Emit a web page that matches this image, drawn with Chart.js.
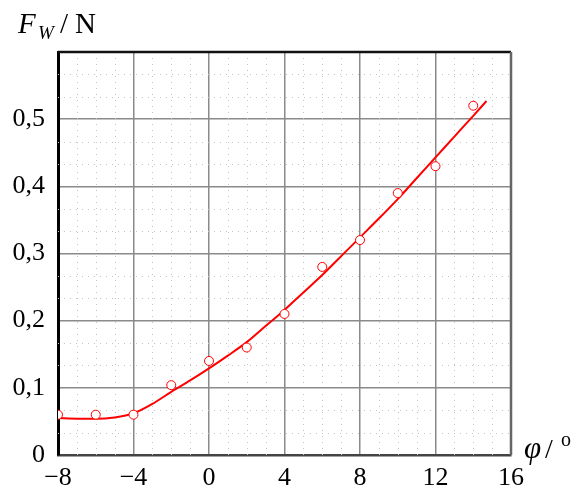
<!DOCTYPE html>
<html>
<head>
<meta charset="utf-8">
<script src="https://cdn.jsdelivr.net/npm/chart.js@4/dist/chart.umd.min.js"></script>
<style>
  html,body{margin:0;padding:0;background:#fff}
  #wrap{width:576px;height:490px;position:relative}
</style>
</head>
<body>
<div id="wrap"><canvas id="c" width="576" height="490"></canvas></div>
<script>
/* measured points (circles) */
var PHI=[-8,-6,-4,-2,0,2,4,6,8,10,12,14];
var FW=[0.06,0.06,0.06,0.104,0.14,0.16,0.21,0.28,0.32,0.39,0.43,0.52];
/* fitted curve */
var FIT_PHI=[-8,-7,-6,-5,-4,-3,-2,-1,0,1,2,3,4,5,6,7,8,9,10,11,12,13,14,14.7];
var FIT_FW=[0.055,0.054,0.054,0.056,0.062,0.076,0.094,0.111,0.129,0.148,0.168,0.192,0.216,0.242,0.268,0.296,0.324,0.352,0.381,0.412,0.443,0.474,0.505,0.527];
/* axis ticks */
var X_TICKS=[-8,-4,0,4,8,12,16];
var Y_TICKS=[0,0.1,0.2,0.3,0.4,0.5];
var Y_LABELS=['0','0,1','0,2','0,3','0,4','0,5'];

var SERIF='"Liberation Serif","DejaVu Serif",serif';

function pts(xs,ys){ return xs.map(function(x,i){return {x:x,y:ys[i]};}); }

// dotted minor grid + frame + axis titles
var decor={
  id:'decor',
  beforeDatasetsDraw:function(chart){
    var ctx=chart.ctx,a=chart.chartArea,sx=chart.scales.x,sy=chart.scales.y;
    ctx.save();
    ctx.strokeStyle='#c4c4c4';ctx.lineWidth=1;ctx.setLineDash([1,5]);
    for(var v=-7;v<16;v++){
      if(v%4===0) continue;
      var px=Math.round(sx.getPixelForValue(v))+0.5;
      ctx.beginPath();ctx.moveTo(px,a.top);ctx.lineTo(px,a.bottom);ctx.stroke();
    }
    for(var k=1;k<18;k++){
      if(k%3===0) continue;
      var py=Math.round(sy.getPixelForValue(k*0.1/3))+0.5;
      ctx.beginPath();ctx.moveTo(a.left,py);ctx.lineTo(a.right,py);ctx.stroke();
    }
    ctx.setLineDash([]);
    // frame: top black, right gray
    ctx.strokeStyle='#111';ctx.lineWidth=2.5;
    ctx.beginPath();ctx.moveTo(a.left,a.top);ctx.lineTo(a.right,a.top);ctx.stroke();
    ctx.strokeStyle='#666';ctx.lineWidth=2.5;
    ctx.beginPath();ctx.moveTo(a.right,a.top);ctx.lineTo(a.right,a.bottom);ctx.stroke();
    ctx.restore();
  },
  afterDraw:function(chart){
    var ctx=chart.ctx;
    ctx.save();
    ctx.fillStyle='#000';ctx.textBaseline='alphabetic';
    ctx.font='italic 29px '+SERIF;
    ctx.fillText('F',18,33);
    ctx.font='italic 19px '+SERIF;
    ctx.fillText('W',38,39);
    ctx.font='29px '+SERIF;
    ctx.fillText('/',60,33);
    ctx.fillText('N',75,33);
    ctx.font='italic 31px '+SERIF;
    ctx.fillText('\u03c6',524,458);
    ctx.font='28px '+SERIF;
    ctx.fillText('/',545,458);
    ctx.font='20px '+SERIF;
    ctx.fillText('o',561,446);
    ctx.restore();
  }
};

new Chart(document.getElementById('c'),{
  type:'scatter',
  data:{datasets:[
    {data:pts(FIT_PHI,FIT_FW),showLine:true,borderColor:'#f00',borderWidth:2,pointRadius:0,cubicInterpolationMode:'monotone',order:2},
    {data:pts(PHI,FW),showLine:false,borderColor:'#f00',backgroundColor:'#fff',borderWidth:1,pointRadius:4.5,order:1}
  ]},
  options:{
    responsive:false,animation:false,
    layout:{padding:{left:0,top:52,right:65,bottom:0}},
    plugins:{legend:{display:false},tooltip:{enabled:false}},
    scales:{
      x:{
        type:'linear',min:-8,max:16,
        afterBuildTicks:function(s){ s.ticks=X_TICKS.map(function(v){return {value:v};}); },
        afterFit:function(s){ s.height=35; },
        grid:{color:'#8a8a8a',lineWidth:1.5,drawTicks:false},
        border:{color:'#444',width:2.5},
        ticks:{color:'#000',padding:8,font:{family:SERIF,size:26},
          callback:function(v){ return v<0?'\u2212'+Math.abs(v):String(v); }}
      },
      y:{
        type:'linear',min:0,max:0.6,
        afterBuildTicks:function(s){ s.ticks=Y_TICKS.map(function(v){return {value:v};}); },
        afterFit:function(s){ s.width=58; },
        grid:{color:'#8a8a8a',lineWidth:1.5,drawTicks:false},
        border:{color:'#000',width:3},
        ticks:{color:'#000',padding:13,font:{family:SERIF,size:26},
          callback:function(v,i){ return Y_LABELS[i]; }}
      }
    }
  },
  plugins:[decor]
});
</script>
</body>
</html>
